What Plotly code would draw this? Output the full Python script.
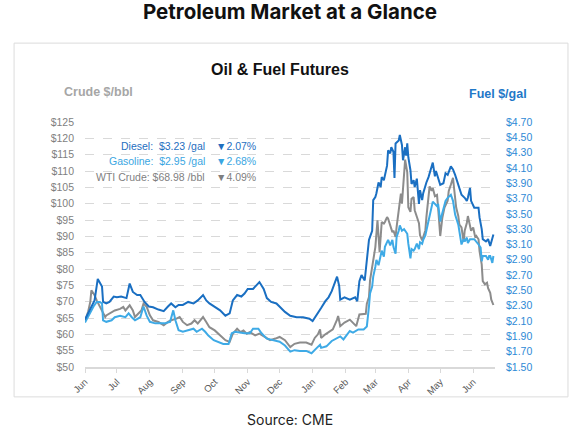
import pandas as pd
import plotly.graph_objects as go

# Oil & fuel futures, daily-ish readings, Jun 2021 -> Jun 2022
start = pd.Timestamp("2021-06-01")

diesel_days = [0, 5, 9, 12, 16, 17, 20, 23, 27, 30, 34, 39, 42, 45, 49, 52, 56, 60, 64, 69,
               74, 78, 81, 85, 88, 92, 97, 102, 106, 111, 114, 117, 122, 127, 132, 136, 139, 143, 147, 150,
               153, 158, 164, 168, 171, 175, 180, 183, 188, 193, 199, 205, 211, 214, 217, 219, 222, 226, 229, 232,
               235, 237, 239, 240, 244, 249, 254, 256, 258, 260, 263, 265, 267, 268, 270, 271, 273, 274, 276, 278,
               279, 281, 282, 284, 285, 287, 288, 290, 291, 292, 295, 296, 298, 299, 301, 302, 303, 304, 306, 307,
               309, 310, 312, 314, 315, 317, 318, 320, 321, 323, 325, 327, 329, 330, 334, 337, 339, 341, 344, 346,
               348, 351, 354, 357, 359, 360, 362, 363, 366, 370, 371, 373, 374, 377, 379, 381, 384]
diesel = [2.12, 2.27, 2.37, 2.65, 2.55, 2.35, 2.33, 2.35, 2.42, 2.41, 2.42, 2.40, 2.59, 2.48, 2.44, 2.44, 2.35, 2.29, 2.28, 2.25,
          2.23, 2.29, 2.33, 2.28, 2.31, 2.31, 2.35, 2.33, 2.37, 2.44, 2.37, 2.33, 2.28, 2.24, 2.17, 2.20, 2.37, 2.44, 2.42, 2.46,
          2.52, 2.52, 2.61, 2.52, 2.40, 2.35, 2.33, 2.29, 2.22, 2.17, 2.15, 2.15, 2.13, 2.10, 2.17, 2.21, 2.27, 2.36, 2.41, 2.49,
          2.62, 2.68, 2.56, 2.38, 2.41, 2.38, 2.41, 2.36, 2.62, 2.70, 2.63, 2.90, 3.16, 3.20, 3.28, 3.68, 3.72, 3.77, 3.91, 3.85,
          3.98, 3.94, 4.00, 4.13, 4.33, 4.29, 4.37, 4.31, 3.97, 4.42, 4.46, 4.53, 4.40, 4.20, 4.37, 4.26, 4.42, 4.24, 4.07, 3.89,
          3.94, 3.85, 3.96, 3.63, 3.81, 3.68, 3.77, 3.88, 3.91, 3.98, 4.07, 4.17, 3.99, 4.06, 3.88, 3.90, 4.03, 4.01, 4.12, 4.08,
          4.01, 3.88, 3.75, 3.71, 3.67, 3.71, 3.84, 3.67, 3.58, 3.58, 3.45, 3.30, 3.17, 3.14, 3.17, 3.08, 3.23]

gasoline_days = [0, 5, 8, 11, 14, 16, 17, 20, 25, 28, 33, 38, 41, 44, 47, 52, 55, 58, 61, 66,
                 70, 75, 80, 83, 85, 88, 92, 97, 102, 105, 110, 113, 116, 121, 125, 130, 135, 138, 141, 147,
                 150, 155, 158, 163, 166, 171, 177, 183, 188, 193, 197, 202, 208, 213, 218, 221, 222, 227, 232, 237,
                 240, 243, 246, 249, 252, 257, 262, 265, 267, 268, 270, 271, 273, 274, 276, 278, 279, 281, 282, 284,
                 285, 287, 289, 290, 292, 293, 295, 296, 298, 300, 301, 303, 304, 306, 307, 309, 310, 312, 314, 315,
                 317, 318, 320, 321, 323, 325, 327, 329, 331, 332, 334, 335, 337, 339, 341, 344, 346, 348, 351, 354,
                 356, 357, 359, 360, 362, 366, 370, 371, 372, 373, 374, 377, 379, 380, 381, 383, 384]
gasoline = [2.08, 2.22, 2.29, 2.35, 2.35, 2.33, 2.11, 2.09, 2.11, 2.15, 2.17, 2.15, 2.20, 2.15, 2.11, 2.15, 2.29, 2.17, 2.09, 2.07,
            2.07, 2.07, 2.09, 2.24, 2.11, 1.98, 1.96, 1.98, 2.00, 1.96, 2.00, 1.96, 1.91, 1.85, 1.83, 1.80, 1.80, 1.94, 1.96, 1.94,
            1.94, 1.94, 2.00, 2.00, 1.94, 1.87, 1.85, 1.83, 1.78, 1.70, 1.72, 1.71, 1.71, 1.68, 1.75, 1.79, 1.75, 1.77, 1.84, 1.88,
            1.90, 1.86, 1.92, 1.97, 1.95, 1.99, 1.99, 2.03, 2.29, 2.46, 2.55, 2.68, 2.81, 2.90, 2.83, 2.98, 3.02, 2.94, 3.07, 3.13,
            3.16, 3.09, 3.16, 3.07, 2.98, 3.20, 3.28, 3.35, 3.28, 3.30, 3.28, 3.24, 3.11, 2.92, 3.04, 3.02, 3.04, 3.11, 3.04, 3.13,
            3.11, 3.16, 3.22, 3.28, 3.40, 3.55, 3.66, 3.63, 3.60, 3.63, 3.40, 3.46, 3.58, 3.67, 3.71, 3.75, 3.67, 3.49, 3.36, 3.10,
            3.17, 3.14, 3.19, 3.12, 3.17, 3.17, 3.10, 3.08, 3.06, 2.88, 2.95, 2.95, 2.90, 2.95, 2.95, 2.86, 2.95]

crude_days = [0, 3, 5, 6, 8, 9, 11, 14, 17, 19, 20, 23, 28, 33, 36, 38, 42, 45, 47, 50,
              53, 55, 58, 61, 64, 69, 74, 78, 81, 86, 89, 92, 96, 100, 103, 106, 111, 114, 117, 122,
              127, 132, 136, 139, 143, 146, 149, 152, 155, 160, 164, 169, 174, 179, 183, 188, 193, 197, 202, 208,
              213, 216, 219, 221, 222, 226, 230, 233, 237, 238, 240, 244, 249, 252, 255, 258, 261, 264, 265, 267,
              268, 270, 271, 273, 275, 277, 279, 281, 282, 284, 285, 287, 289, 290, 292, 293, 295, 296, 297, 298,
              300, 301, 303, 304, 306, 307, 309, 310, 312, 314, 315, 317, 318, 320, 321, 323, 324, 326, 327, 329,
              331, 332, 334, 336, 338, 341, 342, 344, 346, 347, 349, 351, 352, 354, 356, 357, 359, 360, 362, 363,
              365, 367, 368, 370, 371, 373, 374, 376, 378, 379, 381, 382, 384]
crude = [64.0, 67.0, 70.0, 73.5, 72.5, 72.0, 70.4, 68.4, 66.3, 65.3, 65.8, 66.3, 67.3, 67.8, 68.4, 67.3, 68.9, 67.3, 65.3, 66.3,
         67.3, 69.4, 68.4, 65.8, 64.3, 63.8, 62.8, 63.8, 64.3, 64.8, 65.3, 63.8, 62.8, 63.3, 64.3, 63.3, 65.3, 63.8, 62.2, 61.2,
         59.7, 58.2, 57.7, 60.2, 61.7, 60.7, 61.2, 60.2, 60.7, 59.7, 60.2, 59.2, 58.2, 58.7, 59.2, 58.2, 56.1, 57.1, 57.5, 57.5,
         56.8, 58.9, 60.0, 61.5, 58.9, 60.0, 61.0, 61.5, 64.5, 65.6, 62.5, 63.6, 64.5, 63.6, 62.5, 66.1, 66.3, 66.3, 69.4, 71.4,
         76.5, 80.6, 83.7, 86.7, 94.9, 85.2, 94.4, 93.9, 94.4, 95.9, 95.4, 93.4, 91.3, 91.8, 89.8, 92.9, 97.5, 101.0, 103.1, 100.0,
         110.1, 113.5, 109.6, 98.9, 97.5, 101.5, 102.0, 98.0, 96.0, 94.0, 90.3, 88.8, 89.8, 91.8, 95.9, 101.0, 105.3, 103.9, 104.8, 102.3,
         102.7, 98.8, 90.1, 95.7, 98.8, 100.9, 103.9, 105.8, 107.9, 104.8, 98.8, 96.2, 93.6, 92.7, 88.4, 91.7, 94.1, 96.2, 93.1, 91.7,
         92.7, 89.6, 90.1, 89.1, 85.4, 81.4, 76.3, 75.3, 75.8, 74.1, 72.7, 70.6, 68.98]

month_labels = ["Jun", "Jul", "Aug", "Sep", "Oct", "Nov", "Dec", "Jan", "Feb", "Mar", "Apr", "May", "Jun"]
month_ticks = pd.date_range(start, periods=len(month_labels), freq="MS")

# latest prices and daily change for the text block
latest = [("Diesel:\u00a0\u00a0$3.23 /gal", "\u25bc2.07%", "#1f6fbf"),
          ("Gasoline:\u00a0\u00a0$2.95 /gal", "\u25bc2.68%", "#3aa6e2"),
          ("WTI Crude: $68.98 /bbl", "\u25bc4.09%", "#7f7f7f")]

DIESEL_C = "#1a6fc2"
GAS_C = "#3eaae6"
CRUDE_C = "#8c8c8c"
GRID_C = "#d9d9d9"


def to_dates(days):
    return [start + pd.Timedelta(days=d) for d in days]


fig = go.Figure()

fig.add_trace(go.Scatter(x=to_dates(gasoline_days), y=gasoline, mode="lines", name="Gasoline",
                         line=dict(color=GAS_C, width=2), yaxis="y2"))
fig.add_trace(go.Scatter(x=to_dates(crude_days), y=crude, mode="lines", name="WTI Crude",
                         line=dict(color=CRUDE_C, width=2)))
fig.add_trace(go.Scatter(x=to_dates(diesel_days), y=diesel, mode="lines", name="Diesel",
                         line=dict(color=DIESEL_C, width=2), yaxis="y2"))

# outer frame around the chart
fig.add_shape(type="rect", xref="paper", yref="paper", x0=-0.173, x1=1.178, y0=-0.122, y1=1.322,
              line=dict(color="#dcdcdc", width=1), fillcolor="rgba(0,0,0,0)", layer="below")

annos = [
    dict(text="<b>Petroleum Market at a Glance</b>", x=0.5, y=1.449,
         font=dict(size=20.5, color="#111111", family="Inter")),
    dict(text="<b>Oil & Fuel Futures</b>", x=0.4756, y=1.216,
         font=dict(size=16, color="#111111", family="Liberation Sans")),
    dict(text="<b>Crude $/bbl</b>", x=-0.056, y=1.122, xanchor="left",
         font=dict(size=12.5, color="#a6a6a6", family="Liberation Sans")),
    dict(text="<b>Fuel $/gal</b>", x=0.932, y=1.114, xanchor="left",
         font=dict(size=12.5, color="#1f78c8", family="Liberation Sans")),
    dict(text="Source: CME", x=0.5, y=-0.216,
         font=dict(size=14, color="#222222", family="Inter")),
]
for i, (main, pct, col) in enumerate(latest):
    yy = 0.902 - i * 0.063
    annos.append(dict(text=main, x=0.2976, y=yy, xanchor="right",
                      font=dict(size=10.5, color=col, family="Liberation Sans")))
    annos.append(dict(text=pct, x=0.3146, y=yy, xanchor="left",
                      font=dict(size=10.5, color=col, family="Liberation Sans")))
for a in annos:
    a.setdefault("xanchor", "center")
    fig.add_annotation(xref="paper", yref="paper", showarrow=False, yanchor="middle", **a)

fig.update_layout(
    width=580,
    height=434,
    margin=dict(l=85, r=85, t=122, b=67),
    paper_bgcolor="white",
    plot_bgcolor="white",
    showlegend=False,
    font=dict(family="Liberation Sans", color="#7f7f7f"),
    xaxis=dict(
        range=[start, start + pd.Timedelta(days=385.5)],
        tickvals=month_ticks,
        ticktext=month_labels,
        tickangle=-45,
        tickfont=dict(size=9.5, color="#595959"),
        ticks="outside",
        ticklen=4,
        tickcolor=GRID_C,
        showgrid=False,
        showline=True,
        linecolor=GRID_C,
        linewidth=1.5,
        zeroline=False,
    ),
    yaxis=dict(
        range=[50, 125],
        dtick=5,
        tick0=50,
        tickprefix="$",
        tickfont=dict(size=10.5, color="#7f7f7f"),
        showgrid=True,
        gridcolor=GRID_C,
        griddash="dash",
        gridwidth=1,
        zeroline=False,
        ticklabelstandoff=10,
    ),
    yaxis2=dict(
        range=[1.5, 4.7],
        dtick=0.2,
        tick0=1.5,
        tickformat="$.2f",
        tickfont=dict(size=10.5, color="#2e8ad6"),
        overlaying="y",
        side="right",
        showgrid=False,
        zeroline=False,
        ticklabelstandoff=10,
    ),
)

# drop the default 8px body margin so the figure fills the window
fig.write_html("out.html", config={"displayModeBar": False},
               post_script="document.body.style.margin='0';")
